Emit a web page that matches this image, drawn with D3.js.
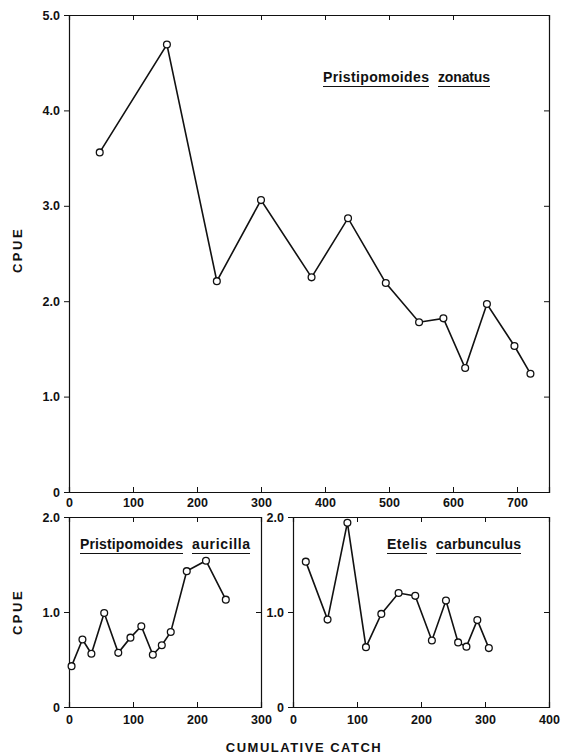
<!DOCTYPE html>
<html>
<head>
<meta charset="utf-8">
<script src="https://cdn.jsdelivr.net/npm/d3@7"></script>
<style>
  body { margin: 0; background: #fff; }
  text { font-family: "Liberation Sans", Arial, sans-serif; font-weight: bold; fill: #111; }
</style>
</head>
<body>
<div id="chart"></div>
<script>
// values
var zonatusCatch = [48, 153, 231, 300, 379, 436, 495, 547, 585, 619, 653, 696, 721]
var zonatusCpue = [3.56, 4.69, 2.21, 3.06, 2.25, 2.87, 2.19, 1.78, 1.82, 1.30, 1.97, 1.53, 1.24]

var auricillaCatch = [4, 21, 35, 55, 77, 96, 113, 131, 145, 159, 184, 214, 245]
var auricillaCpue = [0.43, 0.71, 0.56, 0.99, 0.57, 0.73, 0.85, 0.55, 0.65, 0.79, 1.43, 1.54, 1.13]

var etelisCatch = [20, 54, 85, 114, 138, 165, 191, 217, 239, 258, 271, 288, 306]
var etelisCpue = [1.53, 0.92, 1.94, 0.63, 0.98, 1.20, 1.17, 0.70, 1.12, 0.68, 0.635, 0.915, 0.62]

var topXTicks = [0, 100, 200, 300, 400, 500, 600, 700]
var topYTicks = [0, 1, 2, 3, 4, 5]
var leftXTicks = [0, 100, 200, 300]
var rightXTicks = [0, 100, 200, 300, 400]
var smallYTicks = [0, 1, 2]

var width = 563
var height = 755

var svg = d3.select("#chart")
  .append("svg")
  .attr("width", width)
  .attr("height", height)

// one panel: frame, inward ticks on all four sides, labels, line + open circles
function panel(opt) {
  var x = d3.scaleLinear().domain(opt.xDomain).range([opt.x0, opt.x1])
  var y = d3.scaleLinear().domain(opt.yDomain).range([opt.y1, opt.y0])
  var g = svg.append("g")

  var fmtY = function (d) { return d === 0 ? "0" : d3.format(".1f")(d) }

  // axes with inward ticks
  g.append("g")
    .attr("transform", "translate(0," + opt.y1 + ")")
    .call(d3.axisBottom(x).tickValues(opt.xTicks).tickSize(-5).tickPadding(opt.xPad).tickFormat(d3.format("d")))
  g.append("g")
    .attr("transform", "translate(0," + opt.y0 + ")")
    .call(d3.axisTop(x).tickValues(opt.xTicks.slice(1, -1)).tickSize(-5).tickFormat(""))
  g.append("g")
    .attr("transform", "translate(" + opt.x0 + ",0)")
    .call(d3.axisLeft(y).tickValues(opt.yTicks).tickSize(5).tickPadding(4).tickFormat(fmtY))
  g.append("g")
    .attr("transform", "translate(" + opt.x1 + ",0)")
    .call(d3.axisRight(y).tickValues(opt.yTicks.slice(1, -1)).tickSize(-5).tickFormat(""))

  g.selectAll(".domain").attr("stroke", "#111").attr("stroke-width", 1.2)
  g.selectAll(".tick line").attr("stroke", "#111")
  g.selectAll(".tick text").style("font-size", "12.5px").attr("fill", "#111")

  var line = d3.line()
    .x(function (d) { return x(d[0]) })
    .y(function (d) { return y(d[1]) })
  var pts = d3.zip(opt.xs, opt.ys)

  g.append("path")
    .datum(pts)
    .attr("d", line)
    .attr("fill", "none")
    .attr("stroke", "#111")
    .attr("stroke-width", 1.6)

  g.selectAll("circle")
    .data(pts)
    .enter()
    .append("circle")
    .attr("cx", function (d) { return x(d[0]) })
    .attr("cy", function (d) { return y(d[1]) })
    .attr("r", 3.4)
    .attr("fill", "#fff")
    .attr("stroke", "#111")
    .attr("stroke-width", 1.3)

  // species name, each word underlined
  var tx = opt.titleX
  opt.title.forEach(function (w, i) {
    var len = opt.titleW[i]
    g.append("text")
      .attr("x", tx)
      .attr("y", opt.titleY)
      .attr("textLength", len)
      .attr("lengthAdjust", "spacing")
      .style("font-size", "14px")
      .text(w)
    g.append("line")
      .attr("x1", tx).attr("x2", tx + len)
      .attr("y1", opt.titleY + 4.5).attr("y2", opt.titleY + 4.5)
      .attr("stroke", "#111").attr("stroke-width", 1.2)
    tx += len + 9
  })
}

panel({
  x0: 69, x1: 549, y0: 15, y1: 492,
  xDomain: [0, 750], yDomain: [0, 5],
  xTicks: topXTicks, yTicks: topYTicks, xPad: 6,
  xs: zonatusCatch, ys: zonatusCpue,
  title: ["Pristipomoides", "zonatus"], titleW: [106, 52], titleX: 323, titleY: 82
})

panel({
  x0: 69, x1: 261, y0: 517, y1: 707,
  xDomain: [0, 300], yDomain: [0, 2],
  xTicks: leftXTicks, yTicks: smallYTicks, xPad: 8,
  xs: auricillaCatch, ys: auricillaCpue,
  title: ["Pristipomoides", "auricilla"], titleW: [103, 58], titleX: 80, titleY: 549
})

panel({
  x0: 293, x1: 549, y0: 517, y1: 707,
  xDomain: [0, 400], yDomain: [0, 2],
  xTicks: rightXTicks, yTicks: smallYTicks, xPad: 8,
  xs: etelisCatch, ys: etelisCpue,
  title: ["Etelis", "carbunculus"], titleW: [40, 85], titleX: 387, titleY: 549
})

// axis titles
svg.append("text")
  .attr("transform", "translate(22,250) rotate(-90)")
  .attr("text-anchor", "middle")
  .style("font-size", "13px")
  .style("letter-spacing", "2.5px")
  .text("CPUE")

svg.append("text")
  .attr("transform", "translate(22,612) rotate(-90)")
  .attr("text-anchor", "middle")
  .style("font-size", "13px")
  .style("letter-spacing", "2.5px")
  .text("CPUE")

svg.append("text")
  .attr("x", 304)
  .attr("y", 752)
  .attr("text-anchor", "middle")
  .style("font-size", "13px")
  .style("letter-spacing", "1.5px")
  .text("CUMULATIVE CATCH")
</script>
</body>
</html>
